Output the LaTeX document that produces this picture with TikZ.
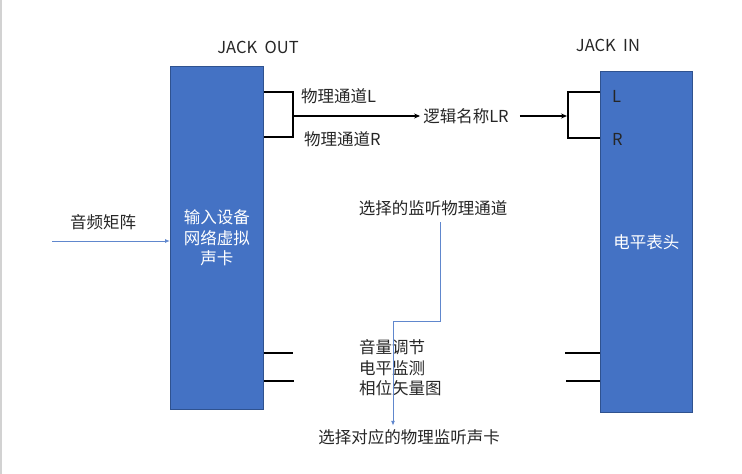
\documentclass[tikz,border=0pt]{standalone}
\usepackage{fontspec}
\setmainfont{Noto Sans CJK SC}
\usetikzlibrary{arrows.meta}
\definecolor{boxblue}{HTML}{4472C4}
\definecolor{boxedge}{HTML}{2F528F}

\begin{document}
\begin{tikzpicture}[x=1pt,y=-1pt,
	every node/.style={font=\fontsize{16.5}{20.5}\selectfont,text=black!85},
	devbox/.style={draw=boxedge,fill=boxblue,line width=0.8pt,text=white,align=center,inner sep=0pt,anchor=north west},
	jack/.style={line width=1.6pt},
	link/.style={line width=1.3pt,-{Stealth[length=6pt,width=5pt]}},
	sel/.style={draw=boxblue!85,line width=0.9pt,-{Latex[length=5pt,width=4pt]}}]
		\useasboundingbox (0,0) rectangle (742,474);
		\draw[gray!35,line width=1.2pt] (1,0) -- (1,474);
		\node[devbox,minimum width=93pt,minimum height=343pt] (card) at (170,66) {输入设备\\网络虚拟\\声卡};
		\node[devbox,minimum width=92pt,minimum height=341pt] (meter) at (600,71) {电平表头};
		\node (jout) at (258,47) {JACK~~OUT};
		\node (jin) at (608,45) {JACK~~IN};
		\node[anchor=west,inner sep=0pt] (chL) at (301,96) {物理通道L};
		\node[anchor=west,inner sep=0pt] (chR) at (304,139) {物理通道R};
		\node[inner sep=3pt] (logic) at (466,116) {逻辑名称LR};
		\node[anchor=west,inner sep=0pt] (inL) at (612,96) {L};
		\node[anchor=west,inner sep=0pt] (inR) at (612,139) {R};
		\node (mix) at (103,222) {音频矩阵};
		\node (pick) at (433,208) {选择的监听物理通道};
		\node[anchor=west,align=left,inner sep=0pt] (funcs) at (359,368) {音量调节\\电平监测\\相位矢量图};
		\node (target) at (409,437) {选择对应的物理监听声卡};
		\coordinate (oL) at (293,92);
		\coordinate (oR) at (293,137);
		\coordinate (oM) at (293,116);
		\coordinate (iL) at (568,92);
		\coordinate (iR) at (568,138);
		\coordinate (iM) at (567,116);
		\coordinate (a1) at (293,353);
		\coordinate (a2) at (294,381);
		\coordinate (b1) at (565,353);
		\coordinate (b2) at (566,381);
		\coordinate (src) at (52,241);
		\coordinate (s1) at (440,222);
		\coordinate (s2) at (393,321);
		\draw[jack] (card.east |- oL) -- (oL) -- (oR) -- (card.east |- oR);
		\draw[jack] (meter.west |- iL) -- (iL) -- (iR) -- (meter.west |- iR);
		\draw[link] (oM) -- (logic.west);
		\draw[link,shorten <=8pt] (logic.east) -- (iM);
		\draw[jack] (card.east |- a1) -- (a1);
		\draw[jack] (card.east |- a2) -- (a2);
		\draw[jack] (b1) -- (meter.west |- b1);
		\draw[jack] (b2) -- (meter.west |- b2);
		\draw[sel] (src) -- (card.west |- src);
		\draw[sel] (s1) -- (s1 |- s2) -- (s2) -- (target.north -| s2);
\end{tikzpicture}
\end{document}
